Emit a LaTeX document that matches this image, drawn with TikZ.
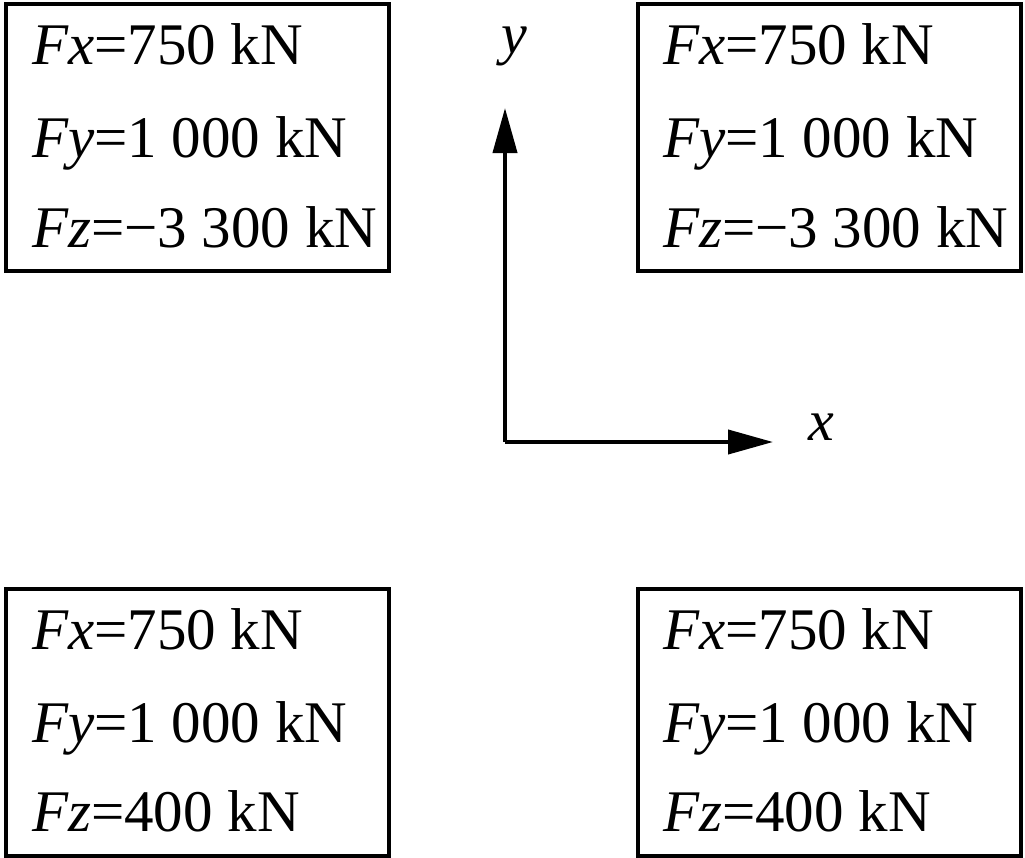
\documentclass[tikz,border=0pt]{standalone}
\usepackage{fontspec}
\setmainfont{Liberation Serif}
\usetikzlibrary{arrows.meta}
\tikzset{
  forcebox/.style={draw, line width=4pt, minimum width=383pt, minimum height=267pt, inner sep=0pt, anchor=north west},
  forcetext/.style={anchor=base west, inner sep=0pt, font=\fontsize{59}{62}\selectfont},
  axisline/.style={line width=4pt, -{Triangle[length=45pt,width=24pt]}},
  axislabel/.style={inner sep=0pt, font=\fontsize{58}{60}\selectfont\itshape}
}
\begin{document}
\begin{tikzpicture}[x=1pt,y=-1pt]
\useasboundingbox (0,0) rectangle (1025,857);
% boxes
\node[forcebox] (b1) at (4,2) {};
\node[forcebox] (b2) at (636,2) {};
\node[forcebox] (b3) at (4,587) {};
\node[forcebox] (b4) at (636,587) {};
% texts
\node[forcetext] (t11) at (32,64) {{\itshape Fx}=750 kN};
\node[forcetext] (t12) at (32,157) {{\itshape Fy}=1 000 kN};
\node[forcetext] (t13) at (32,247) {{\itshape Fz}=−3 300 kN};
\node[forcetext] (t21) at (663,64) {{\itshape Fx}=750 kN};
\node[forcetext] (t22) at (663,157) {{\itshape Fy}=1 000 kN};
\node[forcetext] (t23) at (663,247) {{\itshape Fz}=−3 300 kN};
\node[forcetext] (t31) at (32,649) {{\itshape Fx}=750 kN};
\node[forcetext] (t32) at (32,742) {{\itshape Fy}=1 000 kN};
\node[forcetext] (t33) at (32,831) {{\itshape Fz}=400 kN};
\node[forcetext] (t41) at (663,649) {{\itshape Fx}=750 kN};
\node[forcetext] (t42) at (663,742) {{\itshape Fy}=1 000 kN};
\node[forcetext] (t43) at (663,831) {{\itshape Fz}=400 kN};
% axes
\coordinate (o) at (505,442);
\coordinate (ytip) at (505,108);
\coordinate (xtip) at (773,442);
\draw[axisline] (o) -- (ytip);
\draw[axisline] (o) -- (xtip);
\node[axislabel, anchor=base] (ylab) at (514,53) {y};
\node[axislabel, anchor=base] (xlab) at (821,440) {x};
\end{tikzpicture}
\end{document}
